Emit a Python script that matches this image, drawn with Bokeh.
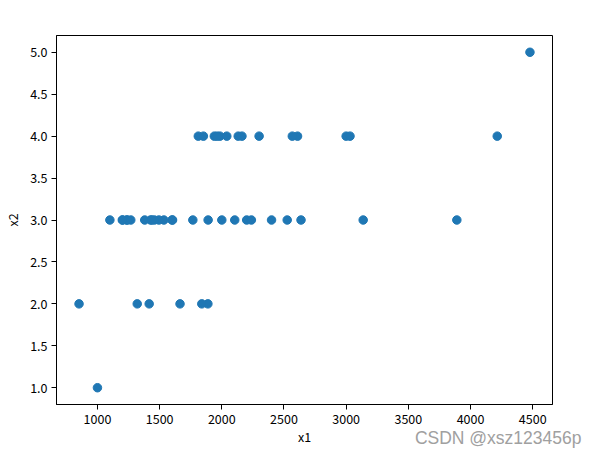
from bokeh.plotting import figure
from bokeh.models import FixedTicker, PrintfTickFormatter, Range1d, Title
from bokeh.embed import file_html
from bokeh.resources import INLINE

# house size (x1) and number of bedrooms (x2)
x1 = [2104, 1600, 2400, 1416, 3000, 1985, 1534, 1427, 1380, 1494, 1940, 2000,
      1890, 4478, 1268, 2300, 1320, 1236, 2609, 3031, 1767, 1888, 1604, 1962,
      3890, 1100, 1458, 2526, 2200, 2637, 1839, 1000, 2040, 3137, 1811, 1437,
      1239, 2132, 4215, 2162, 1664, 2238, 2567, 1200, 852, 1852, 1203]
x2 = [3, 3, 3, 2, 4, 4, 3, 3, 3, 3, 4, 3,
      3, 5, 3, 4, 2, 3, 4, 4, 3, 2, 3, 4,
      3, 3, 3, 3, 3, 3, 2, 1, 4, 3, 4, 3,
      3, 4, 4, 4, 2, 3, 4, 3, 2, 4, 3]
x_ticks = [1000, 1500, 2000, 2500, 3000, 3500, 4000, 4500]
y_ticks = [1.0, 1.5, 2.0, 2.5, 3.0, 3.5, 4.0, 4.5, 5.0]
watermark = "CSDN @xsz123456p"

xpad = 0.05 * (max(x1) - min(x1))
ypad = 0.05 * (max(x2) - min(x2))

FONT = "Noto Sans CJK SC"

p = figure(output_backend="svg", toolbar_location=None,
           frame_width=496, frame_height=369,
           min_border_left=52, min_border_right=30,
           min_border_top=35, min_border_bottom=42,
           x_range=Range1d(min(x1) - xpad, max(x1) + xpad),
           y_range=Range1d(min(x2) - ypad, max(x2) + ypad),
           background_fill_color="white", border_fill_color="white")

p.grid.visible = False
p.outline_line_color = "black"
p.outline_line_width = 1
p.outline_line_alpha = 1

p.scatter(x1, x2, size=8.5, color="#1f77b4", line_color="#1f77b4")

for ax, ticks in ((p.xaxis, x_ticks), (p.yaxis, y_ticks)):
    ax.ticker = FixedTicker(ticks=ticks)
    ax.minor_tick_line_color = None
    ax.major_tick_in = 0
    ax.major_tick_out = 5
    ax.major_tick_line_color = "black"
    ax.axis_line_color = "black"
    ax.major_label_text_font = FONT
    ax.major_label_text_font_size = "12.5px"
    ax.major_label_text_color = "black"
    ax.axis_label_text_font = FONT
    ax.axis_label_text_font_size = "12.5px"
    ax.axis_label_text_font_style = "normal"
    ax.axis_label_text_color = "black"
    ax.major_label_standoff = 4

p.yaxis.formatter = PrintfTickFormatter(format="%.1f")
p.xaxis.axis_label = "x1"
p.yaxis.axis_label = "x2"
p.xaxis.axis_label_standoff = 0
p.yaxis.axis_label_standoff = 5

wm = Title(text=watermark, align="right", offset=-29, standoff=-42,
           vertical_align="top",
           text_font="Liberation Sans", text_font_size="17.5px",
           text_font_style="normal", text_color="#a0a0a0")
p.add_layout(wm, "below")

open("out.html", "w").write(file_html(p, INLINE))
